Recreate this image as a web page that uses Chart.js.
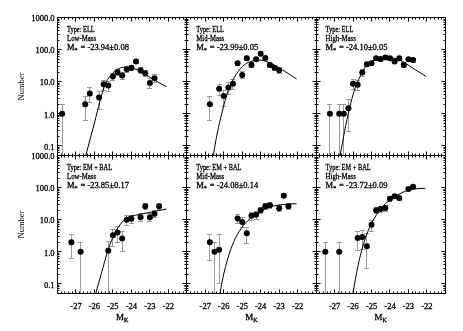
<!DOCTYPE html>
<html>
<head>
<meta charset="utf-8">
<script src="https://cdn.jsdelivr.net/npm/chart.js@4.4.1/dist/chart.umd.min.js"></script>
<style>
  body { margin: 0; background: #fff; }
  #wrap { position: relative; width: 463px; height: 331px; }
  #wrap canvas { position: absolute; left: 0; top: 0; }
</style>
</head>
<body>
<div id="wrap">
  <canvas id="p0" width="463" height="331"></canvas>
  <canvas id="p1" width="463" height="331"></canvas>
  <canvas id="p2" width="463" height="331"></canvas>
  <canvas id="p3" width="463" height="331"></canvas>
  <canvas id="p4" width="463" height="331"></canvas>
  <canvas id="p5" width="463" height="331"></canvas>
</div>
<script>
// ---- axis ticks ----
const xTicks = [-27, -26, -25, -24, -23, -22];
const yTicks = [0.1, 1, 10, 100, 1000];

// ---- panel labels ----
const types = ["Type: ELL", "Type: ELL", "Type: ELL", "Type: EM + BAL", "Type: EM + BAL", "Type: EM + BAL"];
const masses = ["Low-Mass", "Mid-Mass", "High-Mass", "Low-Mass", "Mid-Mass", "High-Mass"];
const mstars = ["-23.94\u00b10.08", "-23.99\u00b10.05", "-24.10\u00b10.05", "-23.85\u00b10.17", "-24.08\u00b10.14", "-23.72\u00b10.09"];

// ---- ELL, low mass ----
const ellLowMag = [-27.75, -26.5, -26.25, -25.75, -25.5, -25.25, -25.0, -24.75, -24.5, -24.25, -24.0, -23.75, -23.5, -23.25, -23.0, -22.75];
const ellLowNum = [1.0, 2.0, 4.3, 3.2, 8.4, 7.6, 14.5, 19.8, 15.5, 24.6, 27.5, 42.4, 22.9, 18.5, 9.2, 12.9];
const ellLowErr = [1.0, 1.4, 2.1, 1.8, 2.9, 2.8, 3.8, 4.4, 3.9, 5.0, 5.2, 6.5, 4.8, 4.3, 3.0, 3.6];
const ellLowFitMag = [-26.6, -26.47, -26.22, -25.98, -25.71, -25.44, -25.17, -24.81, -24.36, -23.91, -23.46, -22.92, -22.11];
const ellLowFitNum = [0.026, 0.05, 0.174, 0.57, 2.4, 7.6, 14.5, 23.4, 28.4, 26.4, 20.7, 12.9, 7.0];

// ---- ELL, mid mass ----
const ellMidMag = [-26.75, -26.25, -26.0, -25.75, -25.5, -25.25, -25.0, -24.75, -24.5, -24.25, -24.0, -23.75, -23.5, -23.25, -23.0];
const ellMidNum = [2.0, 6.0, 3.6, 6.6, 8.6, 37.8, 16.3, 54, 33.5, 50.3, 75, 55, 33.5, 27.5, 22.9];
const ellMidErr = [1.4, 2.4, 1.9, 2.6, 2.9, 6.1, 4.0, 7.3, 5.8, 7.1, 8.7, 7.4, 5.8, 5.2, 4.8];
const ellMidFitMag = [-26.7, -26.57, -26.35, -26.08, -25.81, -25.45, -25.0, -24.55, -24.0, -23.46, -22.74, -22.06];
const ellMidFitNum = [0.02, 0.05, 0.25, 1.17, 4.4, 12.9, 29.6, 42.4, 46.9, 37.8, 21.8, 12.2];

// ---- ELL, high mass ----
const ellHighMag = [-27.25, -26.75, -26.5, -26.25, -26.0, -25.75, -25.5, -25.25, -25.0, -24.75, -24.5, -24.25, -24.0, -23.75, -23.5, -23.25, -23.0, -22.75];
const ellHighNum = [1.0, 1.0, 1.0, 1.5, 8.6, 8.0, 19.3, 35, 37.8, 54, 51, 56.5, 54, 42.4, 54, 33.5, 50.3, 47.9];
const ellHighErr = [1.0, 1.0, 1.0, 1.22, 2.9, 2.8, 4.4, 5.9, 6.1, 7.3, 7.1, 7.5, 7.3, 6.5, 7.3, 5.8, 7.1, 6.9];
const ellHighFitMag = [-26.8, -26.7, -26.46, -26.19, -25.92, -25.66, -25.38, -25.02, -24.57, -24.03, -23.48, -22.76, -22.04];
const ellHighFitNum = [0.025, 0.05, 0.28, 1.5, 5.6, 12.9, 26.4, 42.4, 54, 56.5, 47.9, 26.4, 14.5];

// ---- EM + BAL, low mass ----
const embLowMag = [-27.25, -26.75, -25.25, -25.0, -24.75, -24.5, -24.25, -24.0, -23.5, -23.25, -23.0, -22.75, -22.5];
const embLowNum = [2.0, 1.0, 1.07, 3.3, 4.0, 2.6, 10, 10.7, 11.9, 26.2, 11.9, 15.4, 26.2];
const embLowErr = [1.4, 1.0, 1.03, 1.8, 2.0, 1.6, 3.2, 3.3, 3.4, 5.1, 3.4, 3.9, 5.1];
const embLowFitMag = [-26.05, -25.93, -25.62, -25.26, -24.9, -24.54, -24.18, -23.63, -22.91, -22.1];
const embLowFitNum = [0.028, 0.05, 0.215, 1.15, 3.8, 7.9, 12.1, 14.3, 17.4, 21.5];

// ---- EM + BAL, mid mass ----
const embMidMag = [-26.75, -26.5, -26.25, -25.25, -25.0, -24.75, -24.5, -24.25, -24.0, -23.75, -23.5, -23.0, -22.75, -22.5];
const embMidNum = [2.0, 1.0, 1.15, 11.0, 8.5, 3.8, 13.3, 14.3, 19.6, 26.2, 28.1, 22.6, 56, 26.2];
const embMidErr = [1.45, 1.0, [1.05, 2.4], 3.3, 2.9, 2.0, 3.6, 3.8, 4.4, 5.1, 5.3, 4.8, 7.5, 5.1];
const embMidFitMag = [-26.35, -26.21, -25.99, -25.63, -25.27, -24.82, -24.28, -23.65, -22.92, -22.06];
const embMidFitNum = [0.02, 0.05, 0.215, 1.15, 3.4, 7.9, 14.3, 23.2, 29.4, 31.6];

// ---- EM + BAL, high mass ----
const embHighMag = [-27.5, -26.75, -25.75, -25.5, -25.25, -25.0, -24.75, -24.5, -24.25, -24.0, -23.75, -23.5, -23.0, -22.75];
const embHighNum = [1.0, 1.0, 2.7, 2.9, 1.5, 7.0, 19.6, 21.5, 23.2, 45, 53.7, 47.5, 90.8, 107];
const embHighErr = [1.0, 1.0, 1.6, 1.7, [1.2, 2.3], 2.6, 4.4, 4.6, 4.8, 6.7, 7.3, 6.9, 9.5, 10.3];
const embHighFitMag = [-26.12, -26.01, -25.74, -25.47, -25.2, -24.84, -24.39, -23.85, -23.31, -22.67, -22.08];
const embHighFitNum = [0.023, 0.05, 0.35, 1.47, 4.3, 11.3, 26.2, 47.5, 71.6, 90.8, 95.5];

const panels = [
  { mag: ellLowMag, num: ellLowNum, err: ellLowErr, fitMag: ellLowFitMag, fitNum: ellLowFitNum },
  { mag: ellMidMag, num: ellMidNum, err: ellMidErr, fitMag: ellMidFitMag, fitNum: ellMidFitNum },
  { mag: ellHighMag, num: ellHighNum, err: ellHighErr, fitMag: ellHighFitMag, fitNum: ellHighFitNum },
  { mag: embLowMag, num: embLowNum, err: embLowErr, fitMag: embLowFitMag, fitNum: embLowFitNum },
  { mag: embMidMag, num: embMidNum, err: embMidErr, fitMag: embMidFitMag, fitNum: embMidFitNum },
  { mag: embHighMag, num: embHighNum, err: embHighErr, fitMag: embHighFitMag, fitNum: embHighFitNum },
];

// ---- layout ----
const FONT = "'Liberation Serif', 'Times New Roman', serif";
const colLeft = [57.5, 186.8, 316.1];
const panelW = 129.3;
const rowTop = [17.6, 155.6];
const panelH = 137.9;
const yAxisW = 45;
const xAxisH = 20;
const yMin = 0.05, yMax = 1000;

const snap = v => Math.round(v - 0.5) + 0.5;

// text with a hairline stroke so it reads as dark as the original
function put(ctx, s, x, y, sx = 1) {
  ctx.save();
  ctx.translate(x, y);
  ctx.scale(sx, 1);
  ctx.fillText(s, 0, 0);
  ctx.lineWidth = 0.3;
  ctx.strokeText(s, 0, 0);
  ctx.restore();
}

function decor(i) {
  const p = panels[i];
  const row = Math.floor(i / 3);
  return {
    id: "decor" + i,
    beforeDatasetsDraw(chart) {
      const { ctx, chartArea: a, scales: { x, y } } = chart;
      ctx.save();
      ctx.beginPath();
      ctx.rect(a.left, a.top, a.right - a.left, a.bottom - a.top);
      ctx.clip();
      ctx.strokeStyle = "#9a9a9a";
      ctx.lineWidth = 1;
      p.mag.forEach((m, k) => {
        const e = p.err[k];
        const lo = Array.isArray(e) ? e[0] : e;
        const hi = Array.isArray(e) ? e[1] : e;
        const px = snap(x.getPixelForValue(m));
        const top = y.getPixelForValue(p.num[k] + hi);
        const low = p.num[k] - lo;
        const hasLow = low > yMin;
        const bot = hasLow ? y.getPixelForValue(low) : a.bottom + 2;
        ctx.beginPath();
        ctx.moveTo(px, top);
        ctx.lineTo(px, bot);
        ctx.moveTo(px - 2.5, snap(top));
        ctx.lineTo(px + 2.5, snap(top));
        if (hasLow) {
          ctx.moveTo(px - 2.5, snap(bot));
          ctx.lineTo(px + 2.5, snap(bot));
        }
        ctx.stroke();
      });
      ctx.restore();
    },
    afterDraw(chart) {
      const { ctx, chartArea: a, scales: { x, y } } = chart;
      const L = snap(a.left), R = snap(a.right), T = snap(a.top), B = snap(a.bottom);
      ctx.save();
      ctx.strokeStyle = "#000";
      ctx.lineWidth = 1;
      ctx.strokeRect(L, T, R - L, B - T);
      ctx.beginPath();
      // x ticks, major every 1, minor every 0.2
      for (let k = 0; k <= 35; k++) {
        const v = -28 + k * 0.2;
        const len = k % 5 === 0 ? 4 : 2;
        const px = snap(x.getPixelForValue(v));
        ctx.moveTo(px, B); ctx.lineTo(px, B - len);
        ctx.moveTo(px, T); ctx.lineTo(px, T + len);
      }
      // y ticks (log)
      for (let ex = -2; ex <= 3; ex++) {
        for (let m = 1; m <= 9; m++) {
          const v = m * Math.pow(10, ex);
          if (v < yMin * 0.999 || v > yMax * 1.001) continue;
          const len = m === 1 ? 4 : 2;
          const py = snap(y.getPixelForValue(v));
          ctx.moveTo(L, py); ctx.lineTo(L + len, py);
          ctx.moveTo(R, py); ctx.lineTo(R - len, py);
        }
      }
      ctx.stroke();

      // panel text
      ctx.fillStyle = "#000";
      ctx.strokeStyle = "#000";
      ctx.textBaseline = "alphabetic";
      ctx.textAlign = "left";
      const tx = a.left + 9.5, ty = a.top + 14;
      ctx.font = "8.5px " + FONT;
      put(ctx, types[i], tx, ty, 0.75);
      put(ctx, masses[i], tx, ty + 9, 0.8);
      put(ctx, "M", tx, ty + 18);
      const mw = ctx.measureText("M").width;
      ctx.font = "6px " + FONT;
      put(ctx, "*", tx + mw, ty + 20);
      const sw = ctx.measureText("*").width;
      ctx.font = "8.5px " + FONT;
      put(ctx, " = " + mstars[i], tx + mw + sw + 0.8, ty + 18);

      // x axis title M_K
      if (row === 1) {
        ctx.font = "9px " + FONT;
        const w1 = ctx.measureText("M").width;
        ctx.font = "6px " + FONT;
        const w2 = ctx.measureText("K").width;
        const cx = (a.left + a.right) / 2 - (w1 + w2) / 2;
        ctx.font = "9px " + FONT;
        put(ctx, "M", cx, 320);
        ctx.font = "6px " + FONT;
        put(ctx, "K", cx + w1, 322);
      }
      ctx.restore();
    }
  };
}

function makePanel(i) {
  const p = panels[i];
  const col = i % 3, row = Math.floor(i / 3);
  const showY = col === 0, showX = row === 1;
  const left = colLeft[col], top = rowTop[row];
  new Chart(document.getElementById("p" + i), {
    type: "scatter",
    data: {
      datasets: [
        {
          data: p.mag.map((m, k) => ({ x: m, y: p.num[k] })),
          backgroundColor: "#000",
          borderColor: "#000",
          pointRadius: 3,
          pointBorderWidth: 0,
        },
        {
          type: "line",
          data: p.fitMag.map((m, k) => ({ x: m, y: p.fitNum[k] })),
          borderColor: "#000",
          borderWidth: 1,
          pointRadius: 0,
          fill: false,
          cubicInterpolationMode: "monotone",
        },
      ],
    },
    options: {
      responsive: false,
      animation: false,
      events: [],
      layout: {
        padding: {
          left: left - (showY ? yAxisW : 0),
          top: top,
          right: 463 - (left + panelW),
          bottom: 331 - (top + panelH) - (showX ? xAxisH : 0),
        },
      },
      plugins: { legend: { display: false }, tooltip: { enabled: false } },
      scales: {
        x: {
          type: "linear",
          min: -28,
          max: -21,
          display: showX,
          afterBuildTicks: s => { s.ticks = xTicks.map(v => ({ value: v })); },
          afterFit: s => { s.height = showX ? xAxisH : 0; },
          grid: { display: false, drawTicks: false },
          border: { display: false },
          ticks: {
            color: "#000",
            textStrokeColor: "#000",
            textStrokeWidth: 0.3,
            padding: 8,
            maxRotation: 0,
            autoSkip: false,
            font: { family: FONT, size: 8.5 },
            callback: v => String(v),
          },
        },
        y: {
          type: "logarithmic",
          min: yMin,
          max: yMax,
          display: showY,
          afterBuildTicks: s => { s.ticks = yTicks.map(v => ({ value: v })); },
          afterFit: s => { s.width = showY ? yAxisW : 0; },
          grid: { display: false, drawTicks: false },
          border: { display: false },
          ticks: {
            color: "#000",
            textStrokeColor: "#000",
            textStrokeWidth: 0.3,
            padding: 3,
            labelOffset: 1.5,
            autoSkip: false,
            font: { family: FONT, size: 8.5 },
            callback: v => Number(v).toFixed(1),
          },
          title: {
            display: true,
            text: "Number",
            color: "#000",
            font: { family: FONT, size: 8.5 },
            padding: { top: 4, bottom: 0 },
          },
        },
      },
    },
    plugins: [decor(i)],
  });
}

for (let i = 0; i < 6; i++) makePanel(i);
</script>
</body>
</html>
